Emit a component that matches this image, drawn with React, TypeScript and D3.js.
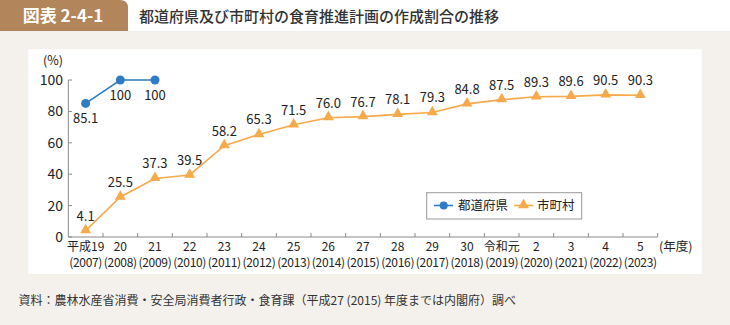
import React from "react";
import * as d3 from "d3";

const eraLabels = ["平成19", "20", "21", "22", "23", "24", "25", "26", "27", "28", "29", "30", "令和元", "2", "3", "4", "5"];
const yearLabels = ["2007", "2008", "2009", "2010", "2011", "2012", "2013", "2014", "2015", "2016", "2017", "2018", "2019", "2020", "2021", "2022", "2023"];
const prefectureValues = [85.1, 100, 100];
const municipalityValues = [4.1, 25.5, 37.3, 39.5, 58.2, 65.3, 71.5, 76.0, 76.7, 78.1, 79.3, 84.8, 87.5, 89.3, 89.6, 90.5, 90.3];
const yTicks = [0, 20, 40, 60, 80, 100];
const seriesNames = ["都道府県", "市町村"];

const FONT = "'Noto Sans CJK JP', 'Noto Sans', sans-serif";
const BLUE = "#2f7bc4";
const ORANGE = "#f6aa4c";
const AXIS = "#8a8a8a";
const TEXT = "#222";

export default function App() {
  const x = d3.scaleBand<string>().domain(yearLabels).range([68.3, 657.7]);
  const y = d3.scaleLinear().domain([0, 100]).range([237, 80]);
  const cx = (i: number) => (x(yearLabels[i]) as number) + x.bandwidth() / 2;

  const line = d3
    .line<number>()
    .x((_, i) => cx(i))
    .y((d) => y(d));

  const tri = d3.symbol().type(d3.symbolTriangle).size(52)();
  const boundaries = yearLabels.map((_, i) => (x(yearLabels[i]) as number) + x.bandwidth());

  return (
    <svg width={730} height={325} style={{ position: "absolute", left: 0, top: 0 }} fontFamily={FONT}>
      <rect x={0} y={0} width={730} height={325} fill="#f4f1ec" />
      <rect x={0} y={0} width={730} height={31} fill="#ffffff" />
      <path d="M0,0 H120 Q128,0 128,8 V31 H0 Z" fill="#b3855a" />
      <text x={63} y={22} textAnchor="middle" fill="#fff" fontSize={17} fontWeight={700}>
        図表 2-4-1
      </text>
      <text x={139} y={21.5} fill="#333" fontSize={15} fontWeight={500}>
        都道府県及び市町村の食育推進計画の作成割合の推移
      </text>

      <rect x={28.3} y={49.3} width={673.4} height={224.7} fill="#ffffff" />

      {/* y axis */}
      <line x1={68.3} x2={68.3} y1={y(0)} y2={y(100)} stroke={AXIS} strokeWidth={1} />
      {yTicks.map((t) => (
        <g key={t}>
          <line x1={68.3} x2={72} y1={y(t)} y2={y(t)} stroke={AXIS} strokeWidth={1} />
          <text x={63} y={y(t) + 5} textAnchor="end" fontSize={14} fill={TEXT}>
            {t}
          </text>
        </g>
      ))}
      <text x={63} y={65} textAnchor="end" fontSize={12.5} fill={TEXT}>
        (%)
      </text>

      {/* x axis */}
      <line x1={68.3} x2={657.7} y1={y(0)} y2={y(0)} stroke={AXIS} strokeWidth={1} />
      {boundaries.map((b, i) => (
        <line key={i} x1={b} x2={b} y1={y(0)} y2={y(0) - 4} stroke={AXIS} strokeWidth={1} />
      ))}
      {yearLabels.map((yr, i) => (
        <g key={yr}>
          <text x={cx(i)} y={251} textAnchor="middle" fontSize={12} fill={TEXT}>
            {eraLabels[i]}
          </text>
          <text x={cx(i)} y={267} textAnchor="middle" fontSize={12} letterSpacing={-0.3} fill={TEXT}>
            ({yr})
          </text>
        </g>
      ))}
      <text x={659} y={251} fontSize={12.5} fill={TEXT}>
        (年度)
      </text>

      {/* municipality series */}
      <path d={line(municipalityValues) as string} fill="none" stroke={ORANGE} strokeWidth={1.6} />
      {municipalityValues.map((v, i) => (
        <g key={i}>
          <path d={tri as string} transform={`translate(${cx(i)},${y(v) - 0.5})`} fill={ORANGE} />
          <text x={cx(i)} y={y(v) - 10} textAnchor="middle" fontSize={13} fill={TEXT}>
            {v.toFixed(1)}
          </text>
        </g>
      ))}

      {/* prefecture series */}
      <path d={line(prefectureValues) as string} fill="none" stroke={BLUE} strokeWidth={1.6} />
      {prefectureValues.map((v, i) => (
        <g key={i}>
          <circle cx={cx(i)} cy={y(v)} r={4.5} fill={BLUE} />
          <text x={cx(i)} y={y(v) + 20} textAnchor="middle" fontSize={13} fill={TEXT}>
            {v === 100 ? "100" : v.toFixed(1)}
          </text>
        </g>
      ))}

      {/* legend */}
      <rect x={426.7} y={192.7} width={155} height={26.3} fill="#fff" stroke="#999" strokeWidth={1} />
      <line x1={434} x2={453} y1={205.5} y2={205.5} stroke={BLUE} strokeWidth={1.6} />
      <circle cx={443.7} cy={205.5} r={4} fill={BLUE} />
      <text x={458} y={210} fontSize={12.5} fill={TEXT}>
        {seriesNames[0]}
      </text>
      <line x1={514} x2={533} y1={205.5} y2={205.5} stroke={ORANGE} strokeWidth={1.6} />
      <path d={tri as string} transform={`translate(523.5,205)`} fill={ORANGE} />
      <text x={537} y={210} fontSize={12.5} fill={TEXT}>
        {seriesNames[1]}
      </text>

      <text x={18.6} y={305} fontSize={12} fill="#333">
        資料：農林水産省消費・安全局消費者行政・食育課（平成27 (2015) 年度までは内閣府）調べ
      </text>
    </svg>
  );
}
